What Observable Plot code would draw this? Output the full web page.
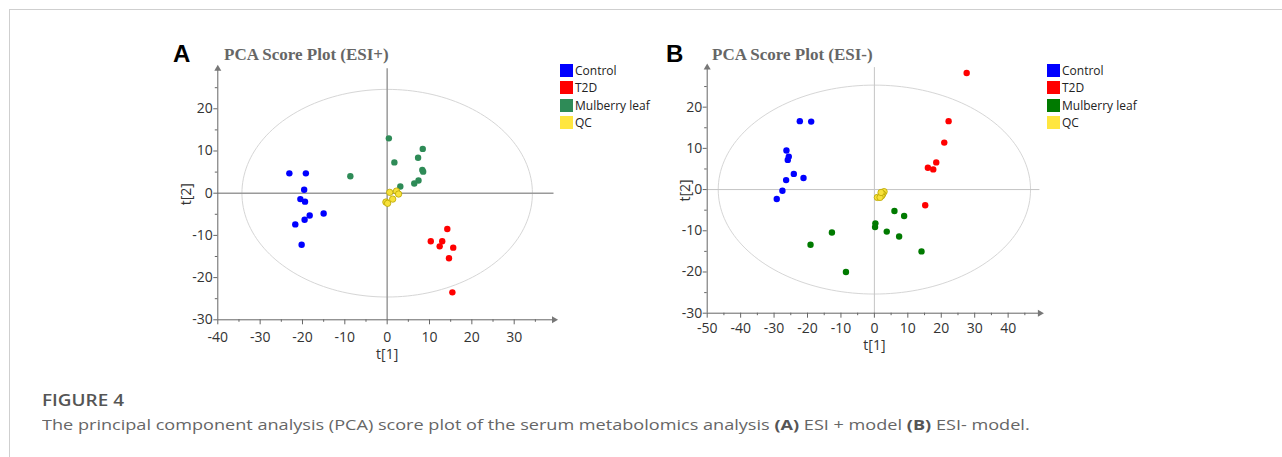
<!DOCTYPE html>
<html><head><meta charset="utf-8">
<script src="https://cdn.jsdelivr.net/npm/d3@7"></script>
<script src="https://cdn.jsdelivr.net/npm/@observablehq/plot@0.6"></script>
<style>
html,body{margin:0;padding:0;background:#fff}
body{width:1282px;height:457px;position:relative;overflow:hidden;font-family:"Open Sans",sans-serif}
.frame{position:absolute;left:9px;top:9px;right:-5px;bottom:-5px;border-top:1.5px solid #cfcfcf;border-left:1.5px solid #cfcfcf}
.panel{position:absolute}
.panel svg{overflow:visible}
.letter{position:absolute;font-family:"Liberation Sans",Arial,sans-serif;font-weight:bold;font-size:24px;line-height:24px;color:#000}
.title{position:absolute;font-family:"Liberation Serif","Times New Roman",serif;font-weight:bold;font-size:17px;line-height:17px;color:#666;white-space:nowrap}
.legend{position:absolute;font-family:"Open Sans",sans-serif;font-size:12px;color:#222}
.legend .row{display:flex;align-items:center;height:17.3px;white-space:nowrap}
.legend .sw{width:13px;height:13px;margin-right:2px}
.fig{position:absolute;left:42px;top:390px;font-family:"Open Sans",sans-serif;font-weight:600;font-size:15.5px;line-height:20px;color:#555;transform:scaleX(1.22);transform-origin:0 0;white-space:nowrap}
.cap{position:absolute;left:42px;top:414px;font-family:"Open Sans",sans-serif;font-size:14.6px;line-height:20px;color:#666;white-space:nowrap;transform:scaleX(1.24);transform-origin:0 0}
.cap b{color:#555}
</style></head><body>
<div class="frame"></div>
<div class="letter" style="left:173px;top:42px">A</div>
<div class="title" style="left:224px;top:45.5px">PCA Score Plot (ESI+)</div>
<div class="letter" style="left:666px;top:42px">B</div>
<div class="title" style="left:712px;top:45.5px">PCA Score Plot (ESI-)</div>
<div id="panelA" class="panel" style="left:160px;top:30px"></div>
<div id="panelB" class="panel" style="left:650px;top:30px"></div>
<div id="legendA" class="legend" style="left:560px;top:62px"></div>
<div id="legendB" class="legend" style="left:1047px;top:62px"></div>
<div class="fig">FIGURE 4</div>
<div class="cap">The principal component analysis (PCA) score plot of the serum metabolomics analysis <b>(A)</b> ESI + model <b>(B)</b> ESI- model.</div>
<script>
// ---------- data ----------
const groups = ["Control", "T2D", "Mulberry leaf", "QC"];

// Panel A: ESI+  [t1, t2]
const posControl = [[-23.1,4.7],[-19.2,4.7],[-19.6,0.8],[-20.5,-1.4],[-19.4,-2.0],[-15.0,-4.8],[-18.3,-5.3],[-19.5,-6.3],[-21.7,-7.4],[-20.2,-12.2]];
const posT2D = [[14.2,-8.5],[10.3,-11.4],[13.0,-11.4],[12.4,-12.6],[15.6,-12.9],[14.6,-15.4],[15.4,-23.5]];
const posMulberry = [[0.4,13.0],[8.4,10.5],[1.7,7.3],[7.3,8.4],[8.3,5.5],[8.5,5.1],[-8.7,4.0],[3.1,1.6],[7.4,3.0],[6.4,2.3]];
const posQC = [[0.6,0.2],[2.2,0.5],[2.7,-0.2],[1.3,-1.4],[-0.3,-2.1],[0.1,-2.4]];

// Panel B: ESI-  [t1, t2]
const negControl = [[-22.3,16.6],[-18.9,16.5],[-26.3,9.5],[-25.6,8.0],[-25.9,7.2],[-24.1,3.8],[-21.2,2.8],[-26.4,2.3],[-27.5,-0.3],[-29.2,-2.3]];
const negT2D = [[27.6,28.3],[22.2,16.6],[20.9,11.4],[18.5,6.6],[16.0,5.3],[17.6,4.9],[15.2,-3.8]];
const negMulberry = [[6.0,-5.2],[8.9,-6.4],[0.3,-8.2],[0.2,-9.1],[3.7,-10.2],[-12.7,-10.4],[7.4,-11.4],[-19.1,-13.4],[14.1,-15.0],[-8.5,-20.0]];
const negQC = [[2.9,-0.5],[2.5,-1.1],[2.2,-1.5],[0.9,-1.9],[1.7,-1.9],[2.0,-0.7]];

// Axis ticks
const xTicksA = [-40,-30,-20,-10,0,10,20,30];
const xMinorA = [-35,-25,-15,-5,5,15,25,35];
const xTicksB = [-50,-40,-30,-20,-10,0,10,20,30,40];
const xMinorB = [-45,-35,-25,-15,-5,5,15,25,35,45];
const yTicks = [-30,-20,-10,0,10,20];
const yMinor = [-25,-15,-5,5,15,25];

// Hotelling T2 ellipse radii [t1, t2]
const ellipseA = [34.3, 24.6];
const ellipseB = [46.7, 25.35];

const colorsA = ["#0000ff", "#ff0000", "#2e8b57", "#f7e13a"];
const colorsB = ["#0000ff", "#ff0000", "#007a00", "#f7e13a"];

// ---------- drawing ----------
const fmt = d => String(d);

function makePanel(p) {
  const data = groups.flatMap((g, i) => p.points[i].map(([t1, t2]) => ({group: g, t1, t2})));
  const ell = d3.range(0, 361, 2).map(a => ({ex: p.ellipse[0] * Math.cos(a * Math.PI / 180), ey: p.ellipse[1] * Math.sin(a * Math.PI / 180)}));
  const x0 = p.xDomain[0], x1 = p.xDomain[1], y0 = p.yDomain[0], y1 = p.yDomain[1];
  return Plot.plot({
    width: p.width, height: p.height,
    marginLeft: p.ml, marginRight: p.mr, marginTop: p.mt, marginBottom: p.mb,
    style: {fontFamily: "'Open Sans', sans-serif", fontSize: "14px", background: "transparent", overflow: "visible"},
    x: {domain: p.xDomain, label: null},
    y: {domain: p.yDomain, label: null},
    color: {domain: groups, range: p.colors},
    marks: [
      Plot.line(ell, {x: "ex", y: "ey", stroke: "#d6d6d6", strokeWidth: 1}),
      Plot.ruleX([0], {stroke: p.zero, strokeWidth: p.zeroW}),
      Plot.ruleY([0], {stroke: p.zero, strokeWidth: p.zeroW}),
      Plot.ruleY([y0], {stroke: "#666", strokeWidth: 1}),
      Plot.ruleX([x0], {stroke: "#666", strokeWidth: 1}),
      Plot.dot([{ax: x1, ay: y0}], {x: "ax", y: "ay", symbol: "triangle", rotate: 90, r: 2.6, fill: "#777", stroke: "none"}),
      Plot.dot([{ax: x0, ay: y1}], {x: "ax", y: "ay", symbol: "triangle", r: 2.6, fill: "#777", stroke: "none"}),
      Plot.axisX(p.xMinor, {tickSize: 2.5, fill: "none", stroke: "#666", label: null}),
      Plot.axisX(p.xTicks, {tickSize: 5, tickPadding: p.xPad, stroke: "#666", fill: "#333", label: null, fontSize: 14, tickFormat: fmt}),
      Plot.axisY(yMinor, {tickSize: 2.5, fill: "none", stroke: "#666", label: null}),
      Plot.axisY(yTicks, {tickSize: 4, tickPadding: 1, stroke: "#666", fill: "#333", label: null, fontSize: 14, tickFormat: fmt}),
      Plot.text([{lx: 0, t: "t[1]"}], {x: "lx", text: "t", frameAnchor: "bottom", dy: p.xLabelDy, fill: "#333", fontSize: 14}),
      Plot.text([{t: "t[2]"}], {text: "t", frameAnchor: "left", dx: p.yLabelDx, rotate: -90, textAnchor: "middle", fill: "#333", fontSize: 14}),
      Plot.dot(data, {x: "t1", y: "t2", fill: "group", r: 3.2,
        stroke: d => d.group === "QC" ? "#b9a400" : "none", strokeWidth: 0.8})
    ]
  });
}

function makeLegend(el, colors) {
  groups.forEach((g, i) => {
    const row = document.createElement("div");
    row.className = "row";
    const sw = document.createElement("div");
    sw.className = "sw";
    sw.style.background = i === 3 ? "#ffe640" : colors[i];
    const tx = document.createElement("span");
    tx.textContent = g;
    row.appendChild(sw); row.appendChild(tx);
    el.appendChild(row);
  });
}

document.getElementById("panelA").appendChild(makePanel({
  points: [posControl, posT2D, posMulberry, posQC],
  colors: colorsA, ellipse: ellipseA,
  xDomain: [-40, 39.4], yDomain: [-30, 29.5],
  xTicks: xTicksA, xMinor: xMinorA,
  width: 420, height: 340, ml: 57.3, mr: 26.5, mt: 38.2, mb: 50.7,
  zero: "#9a9a9a", zeroW: 1.5, xLabelDy: 39.5, yLabelDx: -31, xPad: 7
}));
document.getElementById("panelB").appendChild(makePanel({
  points: [negControl, negT2D, negMulberry, negQC],
  colors: colorsB, ellipse: ellipseB,
  xDomain: [-50, 49.5], yDomain: [-30, 29.6],
  xTicks: xTicksB, xMinor: xMinorB,
  width: 410, height: 330, ml: 56.7, mr: 20.6, mt: 37.1, mb: 47.3,
  zero: "#c4c4c4", zeroW: 1, xLabelDy: 36.5, yLabelDx: -22, xPad: 4.5
}));
makeLegend(document.getElementById("legendA"), colorsA);
makeLegend(document.getElementById("legendB"), colorsB);
</script>
</body></html>
